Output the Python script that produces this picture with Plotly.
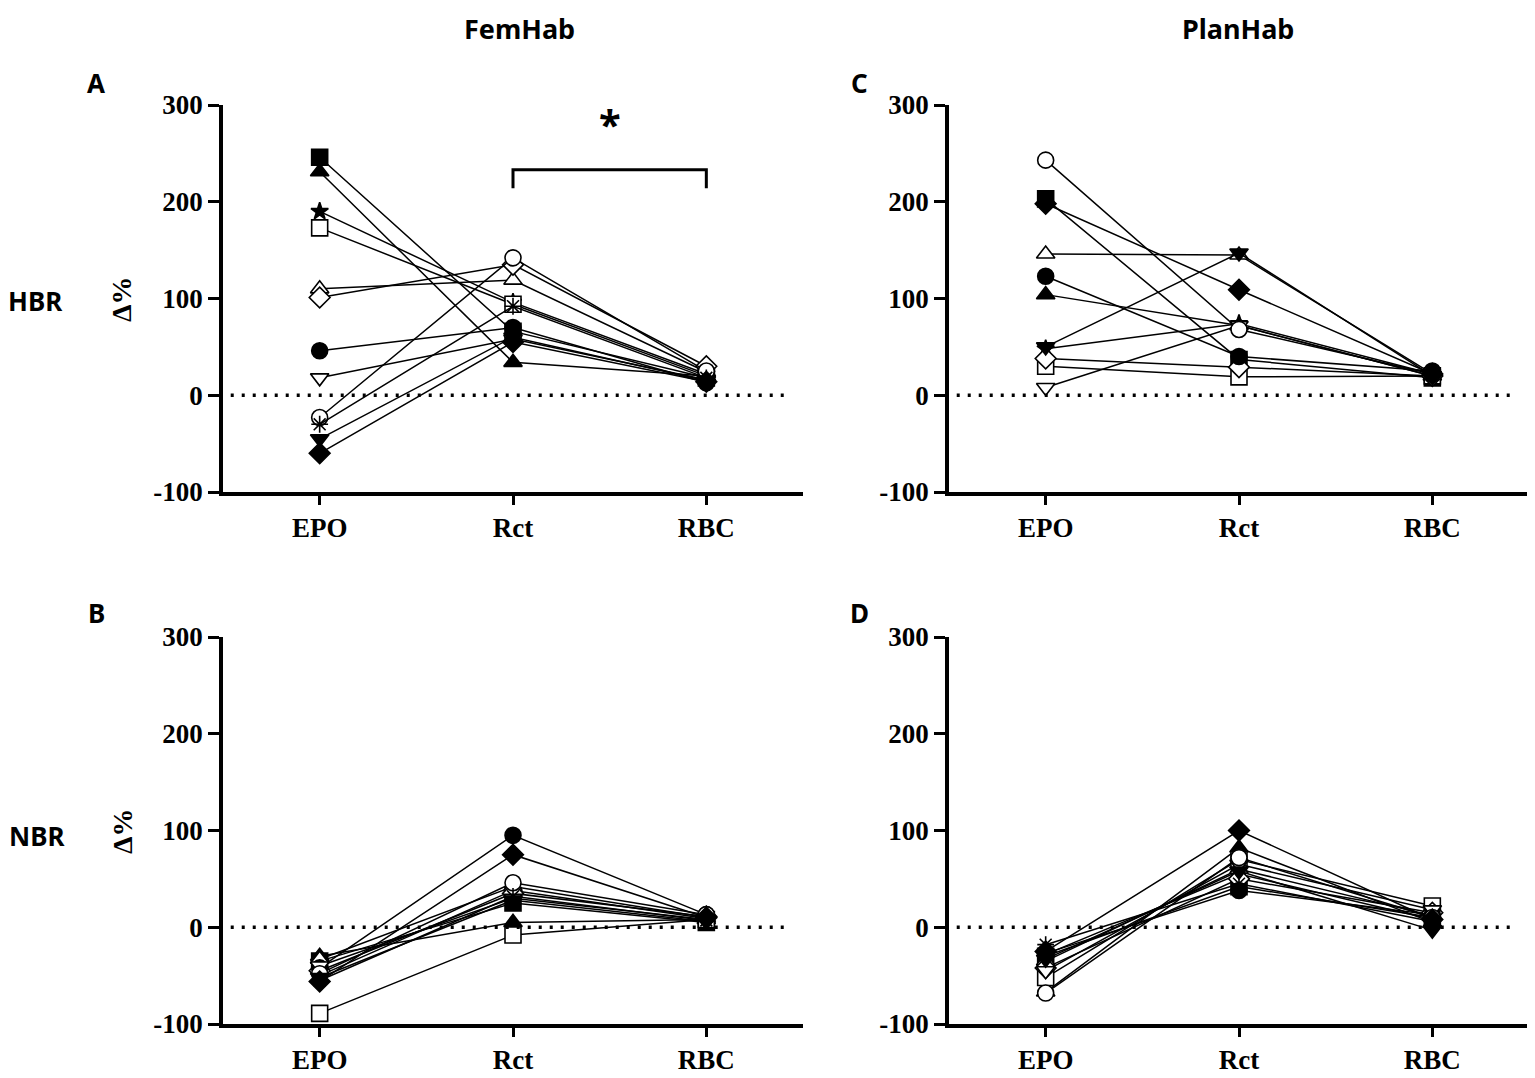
import plotly.graph_objects as go

# measurement points on the x axis
categories = ["EPO", "Rct", "RBC"]

# one entry per subject, same order in every panel
symbols = ["square", "triangle-up", "star", "square-o", "triangle-up-o", "diamond-o",
           "circle", "triangle-down-o", "circle-o", "asterisk", "triangle-down", "diamond"]

# FemHab, HBR (panel A)
femhab_hbr_epo = [246, 231, 190, 173, 110, 101, 46, 18, -23, -30, -45, -60]
femhab_hbr_rct = [66, 34, 96, 94, 119, 135, 70, 58, 142, 92, 60, 55]
femhab_hbr_rbc = [18, 20, 22, 20, 24, 30, 13, 16, 25, 18, 15, 14]

# FemHab, NBR (panel B)
femhab_nbr_epo = [-35, -30, -50, -89, -33, -45, -42, -40, -48, -55, -52, -56]
femhab_nbr_rct = [25, 5, 38, -8, 42, 35, 95, 30, 46, 32, 28, 75]
femhab_nbr_rbc = [5, 8, 9, 8, 10, 11, 13, 8, 13, 7, 6, 10]

# PlanHab, HBR (panel C) - no asterisk subject here
planhab_hbr_epo = [203, 104, 48, 30, 146, 38, 123, 8, 243, None, 50, 198]
planhab_hbr_rct = [37, 72, 74, 19, 145, 29, 40, 72, 68, None, 147, 109]
planhab_hbr_rbc = [18, 20, 22, 20, 22, 20, 25, 20, 22, None, 20, 22]

# PlanHab, NBR (panel D)
planhab_nbr_epo = [-30, -67, -28, -52, -35, -42, -27, -45, -68, -18, -33, -25]
planhab_nbr_rct = [42, 82, 55, 70, 60, 50, 38, 65, 72, 45, 58, 100]
planhab_nbr_rbc = [10, 5, 8, 22, 12, 15, 13, 18, 10, 6, -3, 8]

y_ticks = [300, 200, 100, 0, -100]

# the page body has an 8px margin, so the figure is shrunk to end at the window edges
W, H = 1535 - 8, 1078 - 8


# pixel position in the target picture -> paper fraction
def px(x):
    return min(max((x - 8) / W, 0), 1)


def py(y):
    return 1 - (y - 8) / H


panels = [
    ("x", "y", femhab_hbr_epo, femhab_hbr_rct, femhab_hbr_rbc),
    ("x2", "y2", femhab_nbr_epo, femhab_nbr_rct, femhab_nbr_rbc),
    ("x3", "y3", planhab_hbr_epo, planhab_hbr_rct, planhab_hbr_rbc),
    ("x4", "y4", planhab_nbr_epo, planhab_nbr_rct, planhab_nbr_rbc),
]

fig = go.Figure()

for xa, ya, epo, rct, rbc in panels:
    for i, sym in enumerate(symbols):
        if epo[i] is None:
            continue
        open_sym = sym.endswith("-o")
        base = sym[:-2] if open_sym else sym
        if base == "asterisk":
            marker = dict(symbol="asterisk-open", size=14, color="black",
                          line=dict(color="black", width=1.6))
        else:
            marker = dict(symbol=base, size=13 if base == "star" else 16,
                          color="white" if open_sym else "black",
                          line=dict(color="black", width=1.6))
        fig.add_trace(go.Scatter(
            x=categories, y=[epo[i], rct[i], rbc[i]],
            mode="lines+markers", xaxis=xa, yaxis=ya,
            line=dict(color="black", width=1.5),
            marker=marker, showlegend=False, hoverinfo="skip",
        ))

serif = "Liberation Serif"
sans = "Noto Sans"

left_dom = [px(223), px(803)]
right_dom = [px(949), px(1529)]
top_dom = [py(492), py(105)]
bottom_dom = [py(1024), py(637)]

x_domains = {"x": left_dom, "x2": left_dom, "x3": right_dom, "x4": right_dom}
y_domains = {"y": top_dom, "y2": bottom_dom, "y3": top_dom, "y4": bottom_dom}

layout = dict(
    width=W, height=H,
    margin=dict(l=0, r=0, t=0, b=0, autoexpand=False),
    paper_bgcolor="white", plot_bgcolor="white",
)

for xa, ya in zip(x_domains, y_domains):
    xkey = "xaxis" if xa == "x" else "xaxis" + xa[1:]
    ykey = "yaxis" if ya == "y" else "yaxis" + ya[1:]
    layout[xkey] = dict(
        domain=x_domains[xa], anchor=ya, type="category", automargin=False,
        range=[-0.5, 2.5], showgrid=False, zeroline=False,
        showline=True, linecolor="black", linewidth=3.5,
        ticks="outside", ticklen=9, tickwidth=3, tickcolor="black",
        tickfont=dict(family=serif, size=27, color="black", weight="bold"),
    )
    layout[ykey] = dict(
        domain=y_domains[ya], anchor=xa, range=[-100, 300], automargin=False,
        tickvals=y_ticks, ticktext=[str(v) for v in y_ticks],
        showgrid=False, zeroline=False,
        showline=True, linecolor="black", linewidth=3.5,
        ticks="outside", ticklen=11, tickwidth=3, tickcolor="black",
        tickfont=dict(family=serif, size=27, color="black", weight="bold"),
    )

fig.update_layout(**layout)

# dotted zero line in every panel
for xa, ya in zip(x_domains, y_domains):
    fig.add_shape(type="line", xref=xa, yref=ya, x0=-0.46, x1=2.43, y0=0, y1=0,
                  line=dict(color="black", width=3.5, dash="3px,8px"))

# significance bracket in panel A
fig.add_shape(type="path", xref="x", yref="y",
              path="M 1,214 L 1,233 L 2,233 L 2,214",
              line=dict(color="black", width=3))
fig.add_annotation(x=1.5, y=250, xref="x", yref="y", text="*", showarrow=False,
                   yanchor="bottom", font=dict(family=sans, size=40, color="black", weight="bold"))

# column titles, kept inside the top edge of the figure
for text, x in [("FemHab", 519), ("PlanHab", 1238)]:
    fig.add_annotation(x=px(x), y=1, xref="paper", yref="paper",
                       text=text, showarrow=False, xanchor="center", yanchor="top",
                       font=dict(family=sans, size=27, color="black", weight="bold"))

# panel letters and row labels
labels = [
    ("A", 96, 83, 26), ("B", 96, 613, 26), ("C", 860, 83, 26), ("D", 860, 613, 26),
    ("HBR", 35, 301, 26), ("NBR", 37, 836, 26),
]
for text, x, y, size in labels:
    fig.add_annotation(x=px(x), y=py(y), xref="paper", yref="paper",
                       text=text, showarrow=False, xanchor="center", yanchor="middle",
                       font=dict(family=sans, size=size, color="black", weight="bold"))

for y in [299, 831]:
    fig.add_annotation(x=px(122), y=py(y), xref="paper", yref="paper",
                       text="Δ%", showarrow=False, textangle=-90,
                       xanchor="center", yanchor="middle",
                       font=dict(family=serif, size=28, color="black", weight="bold"))

fig.write_html("out.html")
